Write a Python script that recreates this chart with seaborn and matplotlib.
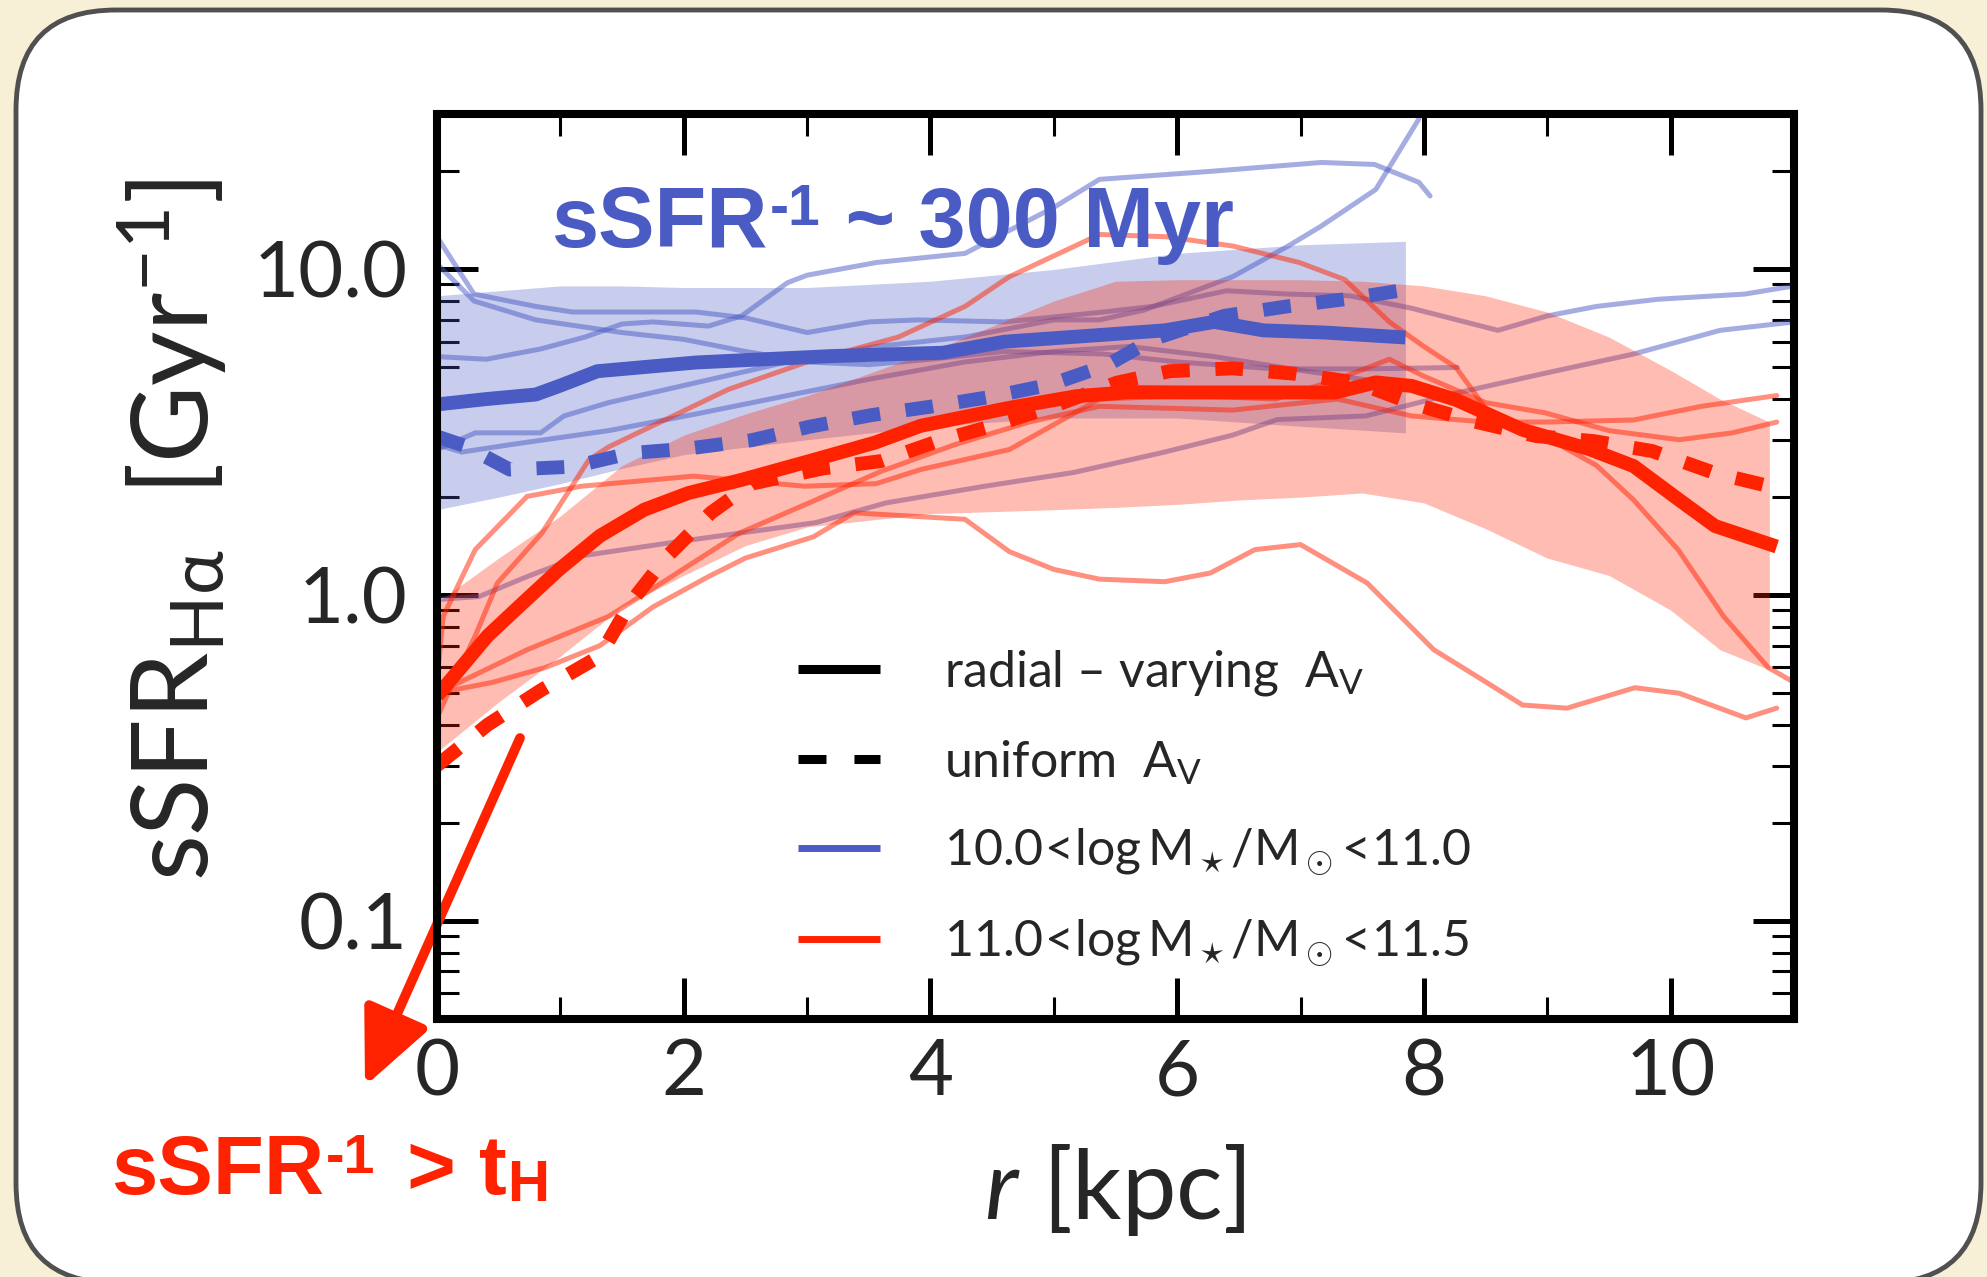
import numpy as np
import pandas as pd
import seaborn as sns
import matplotlib.pyplot as plt
from matplotlib.lines import Line2D
from matplotlib.patches import FancyBboxPatch
from matplotlib.ticker import FixedLocator, FixedFormatter, MultipleLocator, LogLocator, NullFormatter

# ---- data (r in kpc, sSFR in Gyr^-1) ----

# medians, 10.0 < log M < 11.0 (blue)
blue_r = [0, 0.4, 0.8, 1.0, 1.3, 2.1, 3.2, 4.1, 4.6, 5.4, 5.9, 6.3, 6.7, 7.2, 7.85]
blue_radial = [3.85, 4.0, 4.13, 4.4, 4.87, 5.18, 5.42, 5.55, 6.0, 6.3, 6.5, 6.9, 6.5, 6.4, 6.18]
blue_r_uni = [0, 0.23, 0.59, 1.1, 1.57, 2.04, 2.55, 3.02, 3.52, 4.0, 4.5, 4.97, 5.44, 5.8, 6.38, 6.89, 7.36, 7.8]
blue_uniform = [3.07, 2.87, 2.43, 2.48, 2.73, 2.82, 2.99, 3.29, 3.57, 3.79, 4.07, 4.43, 5.1, 6.1, 7.2, 7.7, 8.1, 8.6]

# medians, 11.0 < log M < 11.5 (red)
red_r = [0, 0.41, 0.70, 0.99, 1.32, 1.68, 2.04, 2.47, 3.05, 3.55, 3.92, 4.64, 5.18, 5.61, 6.1, 6.8,
         7.28, 7.61, 7.9, 8.26, 8.8, 9.35, 9.7, 10.07, 10.36, 10.86]
red_radial = [0.49, 0.75, 0.95, 1.20, 1.52, 1.83, 2.06, 2.26, 2.6, 2.94, 3.31, 3.76, 4.08, 4.2, 4.19, 4.19,
              4.19, 4.5, 4.39, 3.98, 3.22, 2.8, 2.49, 1.96, 1.63, 1.41]
red_r_uni = [0, 0.41, 0.84, 1.32, 1.57, 1.86, 2.22, 2.55, 3.13, 3.6, 4.06, 4.54, 5.0, 5.51, 5.94, 6.45,
             6.96, 7.46, 7.93, 8.4, 8.91, 9.38, 9.85, 10.36, 10.8]
red_uniform = [0.30, 0.40, 0.51, 0.65, 0.95, 1.31, 1.79, 2.2, 2.45, 2.58, 2.97, 3.34, 3.81, 4.49, 4.87, 4.97,
               4.78, 4.49, 3.85, 3.42, 3.08, 2.97, 2.77, 2.37, 2.16]

# scatter bands
blue_band_r = [0, 0.5, 1, 1.5, 2, 3, 4, 5, 6, 7, 7.85]
blue_band_hi = [8.3, 8.6, 8.9, 8.9, 8.8, 8.8, 9.2, 10.0, 11.2, 11.9, 12.2]
blue_band_lo = [1.83, 2.0, 2.2, 2.45, 2.7, 3.0, 3.3, 3.5, 3.5, 3.3, 3.15]

red_band_r = [0, 0.5, 1, 1.5, 2, 2.5, 3, 4, 5, 5.5, 6, 6.5, 7, 7.5, 8, 8.5, 9, 9.5, 10, 10.4, 10.8]
red_band_hi = [0.95, 1.3, 1.75, 2.5, 3.1, 3.6, 4.1, 5.6, 8.0, 9.2, 9.3, 9.3, 9.3, 9.2, 8.9, 8.3, 7.4, 6.2, 4.9, 4.0, 3.4]
red_band_lo = [0.33, 0.47, 0.65, 0.92, 1.15, 1.42, 1.62, 1.78, 1.83, 1.86, 1.9, 1.96, 2.0, 2.06, 1.92, 1.6, 1.3,
               1.15, 0.9, 0.68, 0.59]

# individual galaxies (blue)
b1_r = [0, 0.3, 0.8, 1.1, 2.1, 2.5, 3.0, 3.5, 3.9, 4.6, 5.4, 5.8, 6.4, 6.9, 7.4, 7.9, 8.6, 9.0, 9.4, 9.9, 10.6, 11.0]
b1_s = [12.6, 8.4, 7.7, 7.4, 7.4, 7.1, 6.4, 6.9, 7.0, 6.9, 7.4, 7.7, 8.6, 8.4, 8.3, 7.6, 6.5, 7.2, 7.7, 8.1, 8.4, 8.9]
b2_r = [0, 0.3, 0.8, 1.5, 2.0, 2.5, 3.0, 3.5, 4.0, 4.6, 5.4, 6.0, 6.8, 7.5, 8.27]
b2_s = [10.4, 8.0, 7.0, 6.4, 6.1, 5.6, 5.2, 5.1, 5.3, 5.6, 5.5, 5.2, 4.95, 4.95, 5.0]
b3_r = [0, 0.4, 0.84, 1.2, 1.5, 1.75, 2.2, 2.47, 2.84, 3.0, 3.56, 4.28, 5.0, 5.37, 6.27, 7.17, 7.6, 7.96, 8.05]
b3_s = [5.4, 5.3, 5.7, 6.2, 6.8, 6.9, 6.7, 7.2, 9.1, 9.6, 10.5, 11.2, 15.5, 18.9, 20.0, 21.3, 21.0, 18.5, 16.8]
b4_r = [0, 0.31, 0.84, 1.03, 1.39, 2.11, 2.84, 3.56, 4.28, 5.0, 5.37, 5.73, 6.45, 6.9, 7.17, 7.61, 7.96]
b4_s = [2.8, 3.15, 3.15, 3.55, 3.9, 4.5, 5.2, 5.8, 6.2, 7.0, 7.0, 7.5, 9.5, 11.8, 13.6, 17.6, 29.0]
b5_r = [0, 0.2, 0.6, 1.39, 2.1, 2.84, 3.5, 4.28, 5.0, 5.61, 6.3, 7.0, 7.85]
b5_s = [2.9, 2.75, 2.9, 3.2, 3.6, 4.1, 4.6, 5.2, 5.6, 5.8, 5.4, 4.9, 4.4]
b6_r = [0, 0.34, 0.73, 1.17, 1.9, 2.45, 3.07, 3.64, 4.44, 5.16, 5.88, 6.45, 6.81, 7.53, 8.26, 8.98, 9.7, 10.4, 11.0]
b6_s = [0.97, 0.99, 1.14, 1.32, 1.45, 1.55, 1.67, 1.92, 2.16, 2.38, 2.74, 3.1, 3.46, 3.55, 4.17, 4.8, 5.5, 6.5, 6.9]

# individual galaxies (red)
ra_r = [0, 0.13, 0.31, 0.49, 0.85, 1.23, 1.39, 2.36, 3.0, 3.74, 4.28, 4.64, 5.37, 5.91, 6.45, 6.99, 7.36,
        7.72, 8.0, 8.26, 8.51, 8.98, 9.4, 9.7, 10.06, 10.43, 10.79, 11.0]
ra_s = [0.42, 0.54, 0.75, 1.09, 1.55, 2.6, 2.85, 4.28, 5.2, 6.2, 7.7, 9.5, 12.8, 12.6, 11.8, 10.5, 9.3,
        6.9, 5.8, 5.0, 3.7, 3.07, 2.5, 1.96, 1.38, 0.86, 0.60, 0.54]
rb_r = [0, 0.05, 0.31, 0.73, 1.17, 2.08, 2.98, 3.56, 3.92, 4.64, 5.37, 6.1, 6.8, 7.3, 7.72, 8.0, 8.5, 8.98,
        9.5, 10.07, 10.5, 10.86]
rb_s = [0.55, 0.86, 1.38, 2.01, 2.16, 2.32, 2.16, 2.2, 2.43, 2.8, 4.0, 4.1, 4.0, 4.6, 5.3, 4.7, 3.9, 3.63,
        3.2, 3.0, 3.15, 3.4]
rc_r = [0, 0.45, 0.88, 1.32, 1.75, 2.2, 2.5, 3.05, 3.38, 4.28, 4.64, 5.0, 5.37, 5.9, 6.27, 6.63, 7.0, 7.54,
        8.08, 8.44, 8.8, 9.16, 9.71, 10.07, 10.61, 10.86]
rc_s = [0.5, 0.54, 0.60, 0.70, 0.92, 1.14, 1.3, 1.51, 1.79, 1.71, 1.36, 1.2, 1.12, 1.1, 1.17, 1.38, 1.43, 1.09,
        0.68, 0.56, 0.46, 0.45, 0.52, 0.50, 0.42, 0.45]
rd_r = [0, 0.73, 1.39, 1.82, 2.45, 3.07, 3.6, 4.2, 4.8, 5.37, 6.45, 7.3, 7.9, 8.5, 9.0, 9.7, 10.25, 10.86]
rd_s = [0.5, 0.68, 0.86, 1.09, 1.55, 1.96, 2.4, 2.9, 3.4, 3.8, 3.7, 4.0, 3.55, 3.4, 3.4, 3.45, 3.8, 4.1]

blue_lines = [(b1_r, b1_s), (b2_r, b2_s), (b3_r, b3_s), (b4_r, b4_s), (b5_r, b5_s), (b6_r, b6_s)]
red_lines = [(ra_r, ra_s), (rb_r, rb_s), (rc_r, rc_s), (rd_r, rd_s)]

y_ticks = [0.1, 1, 10]
y_tick_labels = ['0.1', '1.0', '10.0']

legend_labels = [r'radial – varying  A$_{\rm V}$', r'uniform  A$_{\rm V}$',
                 r'$10.0\!<\!\log\mathrm{M}_\star/\mathrm{M}_\odot\!<\!11.0$',
                 r'$11.0\!<\!\log\mathrm{M}_\star/\mathrm{M}_\odot\!<\!11.5$']

# ---- style ----
BLUE = '#4a5bc4'
RED = '#ff2200'
CREAM = '#f7efd6'
W, H = 1987, 1277

sns.set_theme(style="ticks")
plt.rcParams['font.family'] = ['Lato', 'DejaVu Sans']
plt.rcParams['mathtext.fontset'] = 'custom'
plt.rcParams['mathtext.rm'] = 'Lato'
plt.rcParams['mathtext.it'] = 'Lato:italic'
plt.rcParams['mathtext.bf'] = 'Lato:bold'

fig = plt.figure(figsize=(W / 100, H / 100), dpi=100, facecolor=CREAM)

# white rounded card behind everything
card = FancyBboxPatch((0.16, -0.06), 19.65, 12.73, boxstyle="round,pad=0,rounding_size=1.0",
                      transform=fig.dpi_scale_trans, facecolor='white', edgecolor='#505050', lw=3.5, zorder=0)
fig.add_artist(card)

ax = fig.add_axes([437 / W, 1 - 1019 / H, (1794 - 437) / W, (1019 - 114) / H])
ax.set_facecolor('none')
ax.set_yscale('log')

# bands and single galaxies
ax.fill_between(blue_band_r, blue_band_lo, blue_band_hi, color=BLUE, alpha=0.3, lw=0, zorder=1)
for r, s in blue_lines:
    sns.lineplot(x=r, y=s, ax=ax, color=BLUE, alpha=0.5, lw=3.6, estimator=None, errorbar=None, zorder=2)
ax.fill_between(red_band_r, red_band_lo, red_band_hi, color=RED, alpha=0.3, lw=0, zorder=3)
for r, s in red_lines:
    sns.lineplot(x=r, y=s, ax=ax, color=RED, alpha=0.5, lw=3.6, estimator=None, errorbar=None, zorder=4)

# medians
dash = (0, (2.0, 1.85))
sns.lineplot(x=blue_r, y=blue_radial, ax=ax, color=BLUE, lw=10, estimator=None, errorbar=None, zorder=5,
             solid_capstyle='butt')
sns.lineplot(x=blue_r_uni, y=blue_uniform, ax=ax, color=BLUE, lw=10, estimator=None, errorbar=None, zorder=5,
             linestyle=dash, dash_capstyle='butt')
sns.lineplot(x=red_r, y=red_radial, ax=ax, color=RED, lw=10, estimator=None, errorbar=None, zorder=6,
             solid_capstyle='butt')
sns.lineplot(x=red_r_uni, y=red_uniform, ax=ax, color=RED, lw=10, estimator=None, errorbar=None, zorder=6,
             linestyle=dash, dash_capstyle='butt')

# axes
ax.set_xlim(0, 11)
ax.set_ylim(0.05, 30)
ax.xaxis.set_major_locator(MultipleLocator(2))
ax.xaxis.set_minor_locator(MultipleLocator(1))
ax.yaxis.set_major_locator(FixedLocator(y_ticks))
ax.yaxis.set_major_formatter(FixedFormatter(y_tick_labels))
ax.yaxis.set_minor_locator(LogLocator(base=10, subs=np.arange(2, 10)))
ax.yaxis.set_minor_formatter(NullFormatter())
ax.tick_params(which='both', direction='in', top=True, right=True, color='black')
ax.tick_params(which='major', length=29.5, width=3.6, labelsize=56)
ax.tick_params(axis='x', which='major', pad=14)
ax.tick_params(axis='y', which='major', pad=21)
ax.tick_params(which='minor', length=16, width=2.2)
for sp in ax.spines.values():
    sp.set_linewidth(5.8)
    sp.set_color('black')
    sp.set_zorder(10)
ax.set_xlabel('')
ax.set_ylabel('')

fig.text(1115 / W, 58 / H, r'$r$ [kpc]', fontsize=70, ha='center', va='baseline')
fig.text(172 / W, 1 - 530 / H, r'sSFR$_{\rm H\alpha}$  [Gyr$^{-1}$]', fontsize=76, rotation=90,
         ha='center', va='center')

# legend
handles = [Line2D([], [], color='black', lw=6.5, solid_capstyle='butt'),
           Line2D([], [], color='black', lw=6.5, linestyle=(0, (3.1, 3.1)), dash_capstyle='butt'),
           Line2D([], [], color=BLUE, lw=5, solid_capstyle='butt'),
           Line2D([], [], color=RED, lw=5, solid_capstyle='butt')]
ax.legend(handles, legend_labels, loc='upper left', bbox_to_anchor=(0.266, 0.41), frameon=False,
          fontsize=36, handlelength=1.64, handletextpad=1.28, labelspacing=0.8, borderpad=0, borderaxespad=0)


# annotations made of pieces (super/subscripts in a bold sans face)
def chain_text(x0, y0, pieces, color):
    renderer = fig.canvas.get_renderer()
    x = x0
    for s, size, dy, gap in pieces:
        t = fig.text(x / W, (y0 + dy) / H, s, fontsize=size, color=color, fontweight='bold',
                     family=['Liberation Sans', 'DejaVu Sans'], ha='left', va='baseline')
        x = t.get_window_extent(renderer).x1 + gap


chain_text(551, H - 247, [('sSFR', 61, 0, 2), ('-1', 41, 22, 2), (' ~ 300 Myr', 61, 0, 0)], BLUE)
chain_text(111, H - 1194, [('sSFR', 60, 0, 2), ('-1', 40, 21, 8), (' > t', 60, 0, 1), ('H', 42, -7, 0)], RED)

ax.annotate('', xy=(365, H - 1086), xytext=(520, H - 738), xycoords='figure pixels',
            textcoords='figure pixels',
            arrowprops=dict(arrowstyle='-|>,head_length=46,head_width=21', mutation_scale=1,
                            color=RED, lw=7, shrinkA=0, shrinkB=0))

fig.savefig('out.png', dpi=100, facecolor=CREAM)
